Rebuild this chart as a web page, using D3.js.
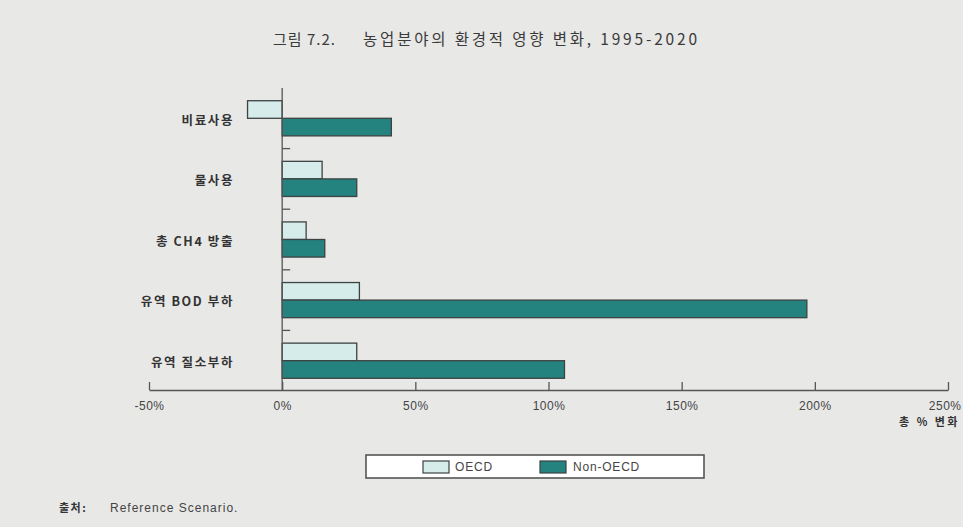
<!DOCTYPE html>
<html>
<head>
<meta charset="utf-8">
<script src="https://cdn.jsdelivr.net/npm/d3@7/dist/d3.min.js"></script>
<style>
  html, body { margin: 0; padding: 0; background: #e8e8e7; }
  svg { display: block; font-family: "Noto Sans CJK KR", "Noto Sans", sans-serif; }
</style>
</head>
<body>
<svg id="chart" width="963" height="527"></svg>
<script>
// Categories (top to bottom) and percentage change per region
const categories = ["비료사용", "물사용", "총 CH4 방출", "유역 BOD 부하", "유역 질소부하"];
const oecdValues = [-13, 15, 9, 29, 28];
const nonOecdValues = [41, 28, 16, 197, 106];
const seriesNames = ["OECD", "Non-OECD"];
const xTicks = [-50, 0, 50, 100, 150, 200, 250];

const colors = { "OECD": "#d5ecea", "Non-OECD": "#24837f" };
const strokeCol = "#3d4242";
const textCol = "#333";
const latin = "Liberation Sans, Arial, sans-serif";

const svg = d3.select("#chart");

const x = d3.scaleLinear().domain([-50, 250]).range([149, 948]);
const y = d3.scaleBand().domain(categories).range([88, 391]).paddingInner(0.42).paddingOuter(0.21);
const ySub = d3.scaleBand().domain(seriesNames).range([0, y.bandwidth()]);

const step = y.step();
const bandStart = 88;

// Title: figure number, then caption
svg.append("text")
  .attr("x", 273).attr("y", 45)
  .attr("font-size", 15)
  .attr("letter-spacing", 1)
  .attr("fill", "#3a3a3a")
  .text("그림 7.2.");
svg.append("text")
  .attr("x", 363).attr("y", 45)
  .attr("font-size", 15.5)
  .attr("textLength", 334)
  .attr("lengthAdjust", "spacing")
  .attr("fill", "#3a3a3a")
  .text("농업분야의 환경적 영향 변화, 1995-2020");

// Bars
const rows = categories.map((c, i) => ({ cat: c, values: [
  { name: "OECD", v: oecdValues[i] },
  { name: "Non-OECD", v: nonOecdValues[i] }
]}));

const g = svg.append("g");
rows.forEach(r => {
  r.values.forEach(d => {
    g.append("rect")
      .attr("x", x(Math.min(0, d.v)))
      .attr("y", y(r.cat) + ySub(d.name))
      .attr("width", Math.abs(x(d.v) - x(0)))
      .attr("height", ySub.bandwidth())
      .attr("fill", colors[d.name])
      .attr("stroke", strokeCol)
      .attr("stroke-width", 1.3);
  });
});

// Vertical zero axis with separators between categories
svg.append("line")
  .attr("x1", x(0)).attr("x2", x(0))
  .attr("y1", bandStart).attr("y2", 391)
  .attr("stroke", "#555").attr("stroke-width", 1.3);
for (let i = 1; i < categories.length; i++) {
  const yy = bandStart + step * i;
  svg.append("line")
    .attr("x1", x(0)).attr("x2", x(0) + 8)
    .attr("y1", yy).attr("y2", yy)
    .attr("stroke", "#555").attr("stroke-width", 1.3);
}

// Category labels
svg.append("g").selectAll("text")
  .data(categories).join("text")
  .attr("x", 234)
  .attr("y", d => y(d) + y.bandwidth() / 2 + 2)
  .attr("dy", "0.35em")
  .attr("text-anchor", "end")
  .attr("font-size", 12.5)
  .attr("letter-spacing", 1.6)
  .attr("font-weight", "bold")
  .attr("fill", textCol)
  .text(d => d);

// Horizontal axis
const xAxis = d3.axisBottom(x)
  .tickValues(xTicks)
  .tickSize(0)
  .tickPadding(11)
  .tickFormat(d => d + "%");
const ax = svg.append("g").attr("transform", "translate(0,390)").call(xAxis);
ax.select(".domain").attr("stroke", "#555").attr("stroke-width", 1.5);
ax.selectAll(".tick text").attr("font-size", 12).attr("fill", "#444")
  .attr("letter-spacing", 0.5)
  .attr("font-family", latin);
// keep the last label inside the page edge
ax.selectAll(".tick text").filter(d => d === 250)
  .attr("text-anchor", "end").attr("x", 13);
ax.selectAll(".tick").append("line")
  .attr("y1", 0).attr("y2", -8)
  .attr("stroke", "#555").attr("stroke-width", 1.3);

// Axis title
svg.append("text")
  .attr("x", 960).attr("y", 426)
  .attr("text-anchor", "end")
  .attr("font-size", 11)
  .attr("letter-spacing", 2.5)
  .attr("font-weight", "bold")
  .attr("fill", textCol)
  .text("총 % 변화");

// Legend
const lg = svg.append("g");
lg.append("rect")
  .attr("x", 366).attr("y", 455).attr("width", 338).attr("height", 23)
  .attr("fill", "#fff").attr("stroke", "#555").attr("stroke-width", 1.6);
const legendItems = [
  { name: "OECD", sx: 423, tx: 455 },
  { name: "Non-OECD", sx: 540, tx: 573 }
];
legendItems.forEach(it => {
  lg.append("rect")
    .attr("x", it.sx).attr("y", 461).attr("width", 26).attr("height", 12)
    .attr("fill", colors[it.name]).attr("stroke", strokeCol).attr("stroke-width", 1.2);
  lg.append("text")
    .attr("x", it.tx).attr("y", 467).attr("dy", "0.35em")
    .attr("font-size", 12)
    .attr("letter-spacing", 0.8)
    .attr("font-family", latin)
    .attr("fill", "#444")
    .text(it.name);
});

// Source note
svg.append("text")
  .attr("x", 59).attr("y", 512)
  .attr("font-size", 11).attr("font-weight", "bold").attr("fill", textCol)
  .attr("letter-spacing", 1.5)
  .text("출처:");
svg.append("text")
  .attr("x", 110).attr("y", 512)
  .attr("font-size", 12).attr("fill", "#444")
  .attr("letter-spacing", 1)
  .attr("font-family", latin)
  .text("Reference Scenario.");
</script>
</body>
</html>
